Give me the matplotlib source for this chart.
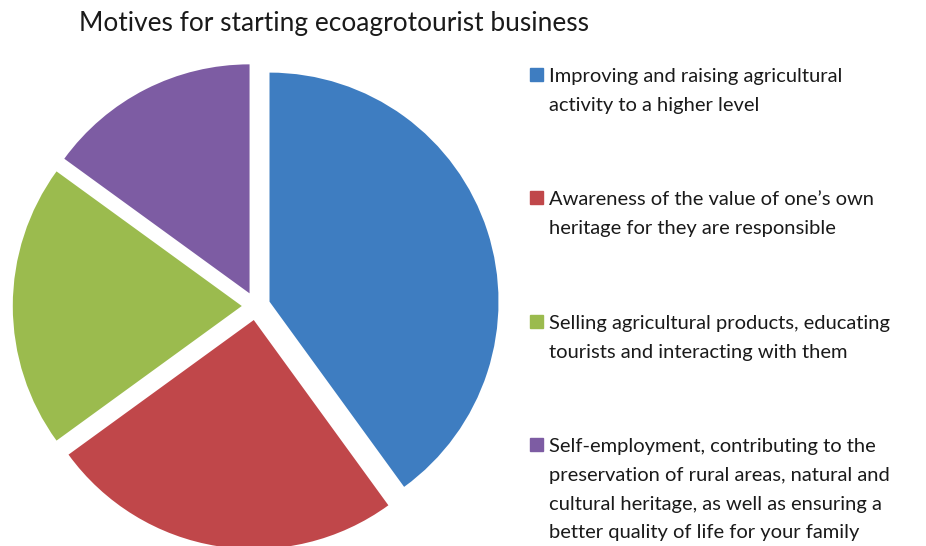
import matplotlib.pyplot as plt
from matplotlib.patches import Rectangle

plt.rcParams["font.family"] = ["Lato", "DejaVu Sans"]

title = "Motives for starting ecoagrotourist business"
labels = [
    "Improving and raising agricultural\nactivity to a higher level",
    "Awareness of the value of one\u2019s own\nheritage for they are responsible",
    "Selling agricultural products, educating\ntourists and interacting with them",
    "Self-employment, contributing to the\npreservation of rural areas, natural and\n"
    "cultural heritage, as well as ensuring a\nbetter quality of life for your family",
]
shares = [40, 25, 20, 15]
colors = ["#3E7DC1", "#C0474A", "#9BBB4E", "#7D5CA3"]

W, H = 926, 546
fig = plt.figure(figsize=(W / 100, H / 100), dpi=100)
ax = fig.add_axes([0, 0, 1, 1])

# pie centre and radius in pixels
cx, cy, r = 256, 240, 229

ax.pie(
    shares,
    colors=colors,
    startangle=90,
    counterclock=False,
    explode=[0.062] * len(shares),
    wedgeprops=dict(linewidth=0),
)
ax.set_aspect("auto")
ax.set_xlim(-cx / r, (W - cx) / r)
ax.set_ylim(-cy / r, (H - cy) / r)
ax.axis("off")

fig.text(79 / W, 1 - 23 / H, title, fontsize=18.9, color="#1a1a1a",
         ha="left", va="center")

# legend drawn by hand so the square sits on the first line
tops = [75, 198, 322, 445]
for lab, col, y in zip(labels, colors, tops):
    fig.patches.append(Rectangle((530 / W, 1 - (y + 6) / H), 13 / W, 13 / H,
                                 transform=fig.transFigure, color=col))
    fig.text(549 / W, 1 - (y - 7) / H, lab, fontsize=14.5, color="#1a1a1a",
             ha="left", va="top", linespacing=1.84)

fig.savefig("out.png", dpi=100)
